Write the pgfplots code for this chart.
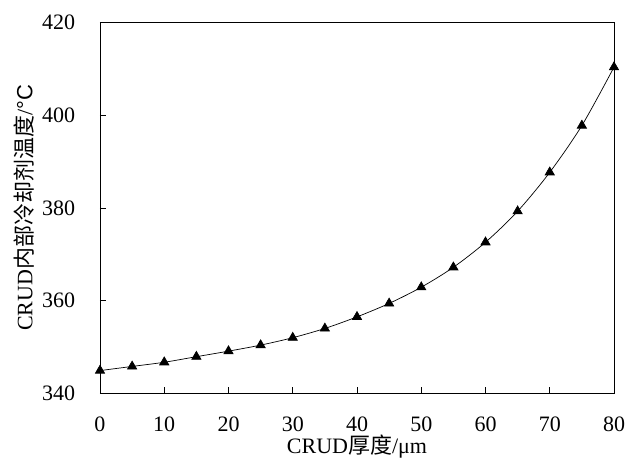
\documentclass[border=0pt]{standalone}
\usepackage{fontspec}
\setmainfont{Liberation Serif}
\newfontfamily\cjk{Noto Sans CJK SC}
\newfontfamily\arial{Liberation Sans}
\usepackage{pgfplots}
\pgfplotsset{compat=1.18}
\begin{document}
\begin{tikzpicture}
\fontsize{22pt}{26pt}\selectfont
\begin{axis}[
  scale only axis,
  width=514pt, height=370.6pt,
  xmin=0, xmax=80, ymin=340, ymax=420,
  xtick={0,10,...,80}, ytick={340,360,...,420},
  tick align=inside,
  xtick pos=bottom, ytick pos=left,
  major tick length=6pt,
  axis line style={line width=0.9pt},
  tick style={line width=0.9pt, black},
  /pgf/number format/assume math mode=true,
  ticklabel style={font=\fontsize{22pt}{26pt}\selectfont},
  yticklabel style={xshift=-17.4pt},
  xticklabel style={yshift=-16.5pt},
  xlabel={CRUD{\cjk 厚度}/μm},
  ylabel={CRUD{\cjk 内部冷却剂温度}/{\arial °C}},
  label style={font=\fontsize{22pt}{26pt}\selectfont},
  xlabel style={at={(axis description cs:0.5,0)}, anchor=base, yshift=-60.7pt},
  ylabel style={at={(axis description cs:-0.148,0.5)}, anchor=center},
]
\addplot[black, line width=0.7pt, mark=triangle*, mark size=5.3pt, smooth] coordinates {
(0,344.9) (5,345.8) (10,346.7) (15,347.9) (20,349.1) (25,350.4) (30,352.0) (35,354.0)
(40,356.5) (45,359.4) (50,362.9) (55,367.2) (60,372.6) (65,379.3) (70,387.7) (75,397.8) (80,410.4)
};
\end{axis}
\pgfresetboundingbox
\path[use as bounding box] ([shift={(-100pt,-66.7pt)}]current axis.south west) rectangle ([shift={(13pt,22.7pt)}]current axis.north east);
\end{tikzpicture}
\end{document}
